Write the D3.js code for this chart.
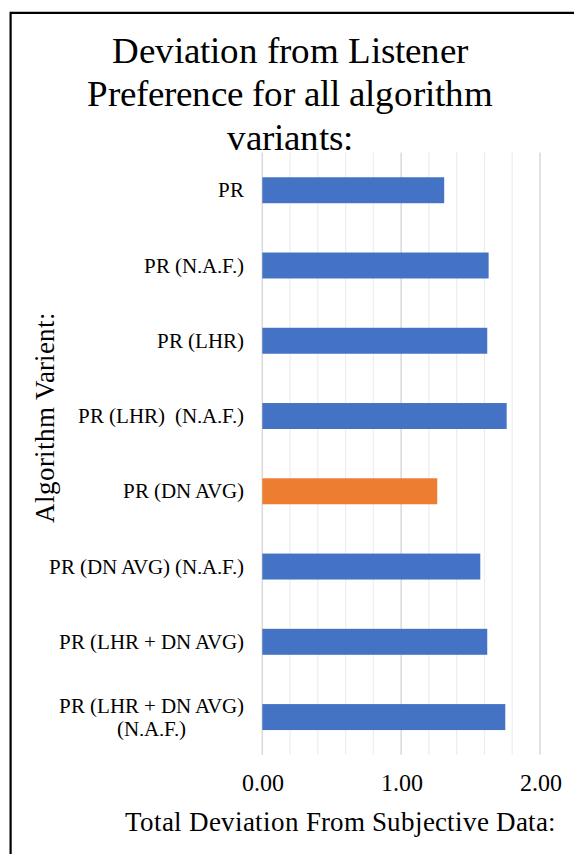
<!DOCTYPE html>
<html>
<head>
<meta charset="utf-8">
<script src="https://cdn.jsdelivr.net/npm/d3@7"></script>
<style>
@font-face { font-family: "ChartSerif"; src: local("Liberation Serif"), local("LiberationSerif"), local("LiberationSerif-Regular"), local("Tinos"), local("Times New Roman"); }
</style>
</head>
<body style="margin:0">
<svg id="fig" width="574" height="854"></svg>
<script>
// Algorithm variants (top to bottom) and their total deviation
const categories = [
  "PR",
  "PR (N.A.F.)",
  "PR (LHR)",
  "PR (LHR)  (N.A.F.)",
  "PR (DN AVG)",
  "PR (DN AVG) (N.A.F.)",
  "PR (LHR + DN AVG)",
  "PR (LHR + DN AVG)\n(N.A.F.)"
];
const deviations = [1.31, 1.63, 1.62, 1.76, 1.26, 1.57, 1.62, 1.75];
const highlighted = ["PR (DN AVG)"];
const xTicks = [0, 1, 2];
const titleLines = ["Deviation from Listener", "Preference for all algorithm", "variants:"];
const xTitle = "Total Deviation From Subjective Data:";
const yTitle = "Algorithm Varient:";

const BLUE = "#4472C4", ORANGE = "#ED7D31";
const FONT = '"ChartSerif", "Liberation Serif", "Tinos", "Times New Roman", serif';

const svg = d3.select("#fig");
const plot = { left: 262.3, right: 540, top: 152.6, bottom: 754.7 };

const x = d3.scaleLinear().domain([0, 2]).range([plot.left, plot.right]);
const y = d3.scaleBand().domain(categories)
  .range([plot.top, plot.bottom])
  .paddingInner(0.655).paddingOuter(0.3275);

function serif(sel, size) {
  return sel.style("font-family", FONT).style("font-size", size + "px").attr("fill", "#000");
}

// Chart frame
svg.append("path")
  .attr("d", "M10.6,860 V12.8 H580")
  .attr("fill", "none").attr("stroke", "#000").attr("stroke-width", 2.2);

// Title
titleLines.forEach((line, i) => {
  serif(svg.append("text"), 37.3)
    .attr("x", 290).attr("y", 62.8 + i * 43.6)
    .attr("text-anchor", "middle")
    .text(line);
});

// Gridlines: minor every 0.2, major at labelled ticks
const grid = svg.append("g");
grid.selectAll("line.minor").data(x.ticks(10).filter(v => !xTicks.includes(v))).join("line")
  .attr("class", "minor")
  .attr("x1", d => x(d)).attr("x2", d => x(d))
  .attr("y1", plot.top).attr("y2", plot.bottom)
  .attr("stroke", "#eeeeee").attr("stroke-width", 1.3);
grid.selectAll("line.major").data(xTicks).join("line")
  .attr("class", "major")
  .attr("x1", d => x(d)).attr("x2", d => x(d))
  .attr("y1", plot.top).attr("y2", plot.bottom)
  .attr("stroke", "#d9d9d9").attr("stroke-width", 1.5);

// Bars
svg.append("g").selectAll("rect").data(categories).join("rect")
  .attr("x", x(0))
  .attr("y", d => y(d))
  .attr("width", (d, i) => x(deviations[i]) - x(0))
  .attr("height", y.bandwidth())
  .attr("fill", d => highlighted.includes(d) ? ORANGE : BLUE);

// X axis tick labels
const xAxis = svg.append("g")
  .attr("transform", `translate(0,${plot.bottom})`)
  .call(d3.axisBottom(x).tickValues(xTicks).tickFormat(d3.format(".2f")).tickSize(0));
xAxis.attr("font-family", null).attr("font-size", null);
xAxis.select(".domain").remove();
serif(xAxis.selectAll("text"), 24).attr("y", 36.8).attr("dy", null);

// Y axis category labels, right-aligned; extra lines of a wrapped label sit centred under the first
const yAxis = svg.append("g")
  .attr("transform", `translate(${plot.left},0)`)
  .call(d3.axisLeft(y).tickSize(0));
yAxis.attr("font-family", null).attr("font-size", null);
yAxis.select(".domain").remove();
const labelRight = 243.5 - plot.left;
const lineGap = 23;
yAxis.selectAll(".tick text").each(function (d) {
  const t = d3.select(this);
  const lines = d.split("\n");
  serif(t.text(null).attr("dy", null).attr("x", labelRight), 21.3)
    .attr("text-anchor", "end");
  lines.forEach((ln, i) => t.append("tspan")
    .attr("x", labelRight)
    .attr("y", (i - (lines.length - 1) / 2) * lineGap + 7.2)
    .style("white-space", "pre")
    .text(ln));
});

function centreWrappedLabels() {
  yAxis.selectAll(".tick text").each(function () {
    const spans = d3.select(this).selectAll("tspan");
    if (spans.size() < 2) return;
    const widest = d3.max(spans.nodes(), n => n.getComputedTextLength());
    d3.select(this).attr("text-anchor", "middle");
    spans.attr("x", labelRight - widest / 2);
  });
}
document.fonts.load('21.3px "ChartSerif"').then(centreWrappedLabels);

// Axis titles
serif(svg.append("text"), 26.7)
  .attr("x", 340.8).attr("y", 830.7)
  .attr("text-anchor", "middle")
  .text(xTitle);
serif(svg.append("text"), 26.7)
  .attr("transform", "translate(53.5,417.5) rotate(-90)")
  .attr("text-anchor", "middle")
  .text(yTitle);
</script>
</body>
</html>
